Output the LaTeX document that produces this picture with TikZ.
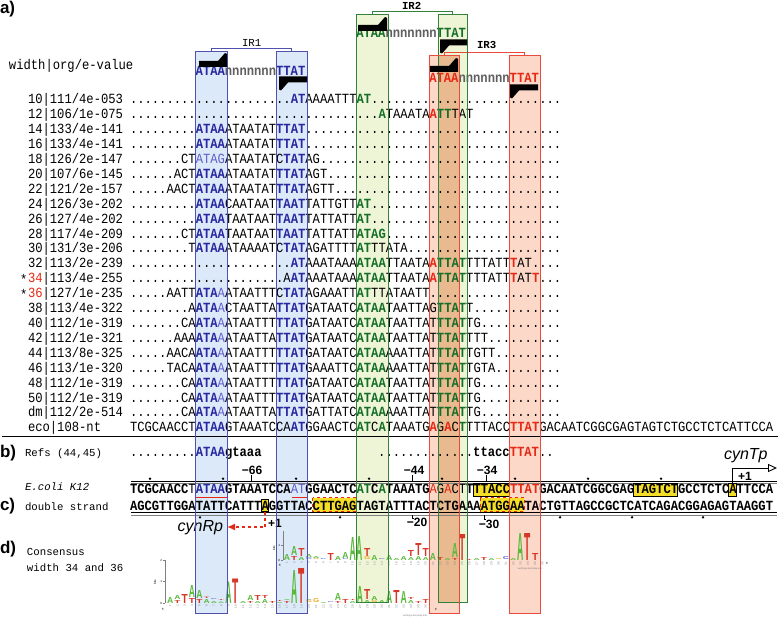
\documentclass[tikz,border=0pt]{standalone}
\usepackage{fontspec}
\usepackage{graphicx}
\setsansfont{Liberation Sans}
\newfontfamily\seqf[FakeStretch=0.87]{Liberation Mono}
\newfontfamily\monof{Liberation Mono}
\usetikzlibrary{arrows.meta}
\definecolor{cB}{RGB}{40,40,160}
\definecolor{cBl}{RGB}{95,95,205}
\definecolor{cG}{RGB}{20,110,40}
\definecolor{cR}{RGB}{230,40,20}
\definecolor{cN}{RGB}{95,95,95}
\definecolor{fIRa}{RGB}{220,233,248}
\definecolor{fIRb}{RGB}{238,245,214}
\definecolor{fIRc}{RGB}{252,216,200}
\definecolor{fOv}{RGB}{233,185,143}
\definecolor{dIRa}{RGB}{80,80,175}
\definecolor{dIRb}{RGB}{50,130,60}
\definecolor{dIRc}{RGB}{232,75,60}
\definecolor{cYel}{RGB}{245,222,40}
\definecolor{lA}{RGB}{90,185,60}
\definecolor{lT}{RGB}{215,55,40}
\definecolor{lC}{RGB}{80,100,210}
\definecolor{lG}{RGB}{240,170,30}
\newcommand\dotsn[1]{\ifnum#1>0 .\expandafter\dotsn\expandafter{\the\numexpr#1-1\relax}\fi}
\newcommand\sB[1]{{\bfseries\color{cB}#1}}
\newcommand\sL[1]{{\mdseries\color{cBl}#1}}
\newcommand\sG[1]{{\bfseries\color{cG}#1}}
\newcommand\sR[1]{{\bfseries\color{cR}#1}}
\newcommand\sN[1]{{\bfseries\color{cN}#1}}
\newcommand\tinyf{\sffamily\fontsize{3}{3}\selectfont}
\newcommand\LL[5]{\node[anchor=south,text=#2] (L#1-#3) at ({133.65+7.3*(#1)},#3) {\resizebox{6.2pt}{#4pt}{\sffamily\bfseries #5}};}
\newcommand\harpR[3]{\fill (#1,#3-3) -- (#2-9,#3-3) -- (#2-2,#3-11) -- (#2,#3-10) -- (#2,#3+3) -- (#1,#3+3) -- cycle;}
\newcommand\harpL[3]{\fill (#2,#3+3) -- (#1+9,#3+3) -- (#1+2,#3+11) -- (#1,#3+10) -- (#1,#3-3) -- (#2,#3-3) -- cycle;}
\begin{document}
\begin{tikzpicture}[x=1pt,y=-1pt,
  every node/.style={inner sep=0pt,outer sep=0pt},
  seqrow/.style={anchor=base west,font=\seqf\fontsize{14}{14}\selectfont},
  smalllab/.style={anchor=base west,font=\monof\fontsize{10.7}{11}\selectfont},
  panel/.style={anchor=base west,font=\sffamily\bfseries\fontsize{17}{17}\selectfont},
  posnum/.style={font=\sffamily\bfseries\fontsize{12}{12}\selectfont},
  ybox/.style={fill=cYel,draw=black,line width=0.8pt},
  rbox/.style={fill=cYel,draw=cR,dashed,line width=1.2pt}]
\useasboundingbox (0,0) rectangle (778,617);
% ---------- IR boxes (fills)
\fill[fIRa] (195,52) rectangle (227,613);
\fill[fIRa] (276,52) rectangle (307,613);
\fill[fIRb] (356,15) rectangle (388,602);
\fill[fIRb] (438,15) rectangle (467,602);
\fill[fIRc] (429,56) rectangle (459,613);
\fill[fIRc] (509,56) rectangle (540,613);
\fill[fOv] (438,56) rectangle (459,602);
% brackets
\draw[dIRa,line width=0.9pt] (211,52) -- (211,48.5) -- (291.5,48.5) -- (291.5,52);
\draw[dIRb,line width=0.9pt] (372,15) -- (372,11.5) -- (452.5,11.5) -- (452.5,15);
\draw[dIRc,line width=0.9pt] (444,56) -- (444,52.5) -- (524.5,52.5) -- (524.5,56);
\node[smalllab] (ir1) at (242,47) {IR1};
\node[smalllab,font=\monof\bfseries\fontsize{10.7}{11}\selectfont] (ir2) at (402,10) {IR2};
\node[smalllab,font=\monof\bfseries\fontsize{10.7}{11}\selectfont] (ir3) at (477,49) {IR3};
% ---------- panel labels
\node[panel] (pa) at (0,14) {a)};
\node[panel] (pb) at (0,457) {b)};
\node[panel] (pc) at (0,510) {c)};
\node[panel] (pd) at (0,553) {d)};
% ---------- header
\node[seqrow] (hdr) at (9,70) {width|org/e-value};
\node[seqrow] (m1) at ({130+7.3*9},76) {\sB{ATAA}\sN{nnnnnnn}\sB{TTAT}};
\node[seqrow] (m2) at ({130+7.3*31},38) {\sG{ATAA}\sN{nnnnnnn}\sG{TTAT}};
\node[seqrow] (m3) at ({130+7.3*41},83) {\sR{ATAA}\sN{nnnnnnn}\sR{TTAT}};
% ---------- rows
\node[seqrow] (l10) at (28,104) {10|111/4e-053};
\node[seqrow] (r10) at (130,104) {\dotsn{22}\sB{AT}AAAATTT\sG{AT}\dotsn{26}};
\node[seqrow] (l12) at (28,{104+14.9*1}) {12|106/1e-075};
\node[seqrow] (r12) at (130,{104+14.9*1}) {\dotsn{34}\sG{A}TAAATA\sR{A}\sG{TT}TAT};
\node[seqrow] (l14) at (28,{104+14.9*2}) {14|133/4e-141};
\node[seqrow] (r14) at (130,{104+14.9*2}) {\dotsn{9}\sB{ATAA}ATAATAT\sB{TTAT}\dotsn{35}};
\node[seqrow] (l16) at (28,{104+14.9*3}) {16|133/4e-141};
\node[seqrow] (r16) at (130,{104+14.9*3}) {\dotsn{9}\sB{ATAA}ATAATAT\sB{TTAT}\dotsn{35}};
\node[seqrow] (l18) at (28,{104+14.9*4}) {18|126/2e-147};
\node[seqrow] (r18) at (130,{104+14.9*4}) {\dotsn{7}CT\sL{ATAG}ATAATATC\sB{TAT}AG\dotsn{33}};
\node[seqrow] (l20) at (28,{104+14.9*5}) {20|107/6e-145};
\node[seqrow] (r20) at (130,{104+14.9*5}) {\dotsn{6}ACT\sB{ATAA}ATAATAT\sB{TTAT}AGT\dotsn{32}};
\node[seqrow] (l22) at (28,{104+14.9*6}) {22|121/2e-157};
\node[seqrow] (r22) at (130,{104+14.9*6}) {\dotsn{5}AACT\sB{ATAA}ATAATAT\sB{TTAT}AGTT\dotsn{31}};
\node[seqrow] (l24) at (28,{104+14.9*7}) {24|126/3e-202};
\node[seqrow] (r24) at (130,{104+14.9*7}) {\dotsn{9}\sB{ATAA}CAATAAT\sB{TAAT}TATTGTT\sG{AT}\dotsn{26}};
\node[seqrow] (l26) at (28,{104+14.9*8}) {26|127/4e-202};
\node[seqrow] (r26) at (130,{104+14.9*8}) {\dotsn{9}\sB{ATAA}TAATAAT\sB{TAAT}TATTATT\sG{AT}\dotsn{26}};
\node[seqrow] (l28) at (28,{104+14.9*9}) {28|117/4e-209};
\node[seqrow] (r28) at (130,{104+14.9*9}) {\dotsn{7}CT\sB{ATAA}TAATAAT\sB{TAAT}TATTATT\sG{ATAG}\dotsn{24}};
\node[seqrow] (l30) at (28,{104+14.9*10}) {30|131/3e-206};
\node[seqrow] (r30) at (130,{104+14.9*10}) {\dotsn{8}T\sB{ATAA}ATAAAATC\sB{TAT}AGATTTT\sG{AT}TTATA\dotsn{21}};
\node[seqrow] (l32) at (28,{104+14.9*11}) {32|113/2e-239};
\node[seqrow] (r32) at (130,{104+14.9*11}) {\dotsn{22}\sB{AT}AAATAAA\sG{ATAA}TTAATA\sR{A}\sG{TTAT}TTTATT\sR{T}AT\dotsn{4}};
\node[seqrow] (a34) at (20,{106+14.9*12}) {*};
\node[seqrow] (l34) at (28,{104+14.9*12}) {\textcolor{cR}{34}|113/4e-255};
\node[seqrow] (r34) at (130,{104+14.9*12}) {\dotsn{21}A\sB{AT}AAATAAA\sG{ATAA}TTAATA\sR{A}\sG{TTAT}TTTATT\sR{T}AT\sR{T}\dotsn{3}};
\node[seqrow] (a36) at (20,{106+14.9*13}) {*};
\node[seqrow] (l36) at (28,{104+14.9*13}) {\textcolor{cR}{36}|127/1e-235};
\node[seqrow] (r36) at (130,{104+14.9*13}) {\dotsn{5}AATT\sB{ATA}\sL{A}ATAATTTC\sB{TAT}AGAAATT\sG{AT}TTATAATT\dotsn{18}};
\node[seqrow] (l38) at (28,{104+14.9*14}) {38|113/4e-322};
\node[seqrow] (r38) at (130,{104+14.9*14}) {\dotsn{8}A\sB{ATA}\sL{A}CTAATTA\sB{TTAT}GATAATC\sG{ATAA}TAATTAG\sG{TTAT}T\dotsn{12}};
\node[seqrow] (l40) at (28,{104+14.9*15}) {40|112/1e-319};
\node[seqrow] (r40) at (130,{104+14.9*15}) {\dotsn{7}CA\sB{ATA}\sL{A}ATAATTT\sB{TTAT}GATAATC\sG{ATAA}TAATTAT\sG{TTAT}TG\dotsn{11}};
\node[seqrow] (l42) at (28,{104+14.9*16}) {42|112/1e-321};
\node[seqrow] (r42) at (130,{104+14.9*16}) {\dotsn{6}AAA\sB{ATA}\sL{A}ATAATTA\sB{TTAT}GATAATC\sG{ATAA}TAATTAT\sG{TTAT}TTT\dotsn{10}};
\node[seqrow] (l44) at (28,{104+14.9*17}) {44|113/8e-325};
\node[seqrow] (r44) at (130,{104+14.9*17}) {\dotsn{5}AACA\sB{ATA}\sL{A}ATAATTT\sB{TTAT}GATAATC\sG{ATAA}AAATTAT\sG{TTAT}TGTT\dotsn{9}};
\node[seqrow] (l46) at (28,{104+14.9*18}) {46|113/1e-320};
\node[seqrow] (r46) at (130,{104+14.9*18}) {\dotsn{5}TACA\sB{ATA}\sL{A}ATAATTT\sB{TTAT}GAAATTC\sG{ATAA}AAATTAT\sG{TTAT}TGTA\dotsn{9}};
\node[seqrow] (l48) at (28,{104+14.9*19}) {48|112/1e-319};
\node[seqrow] (r48) at (130,{104+14.9*19}) {\dotsn{7}CA\sB{ATA}\sL{A}ATAATTT\sB{TTAT}GATAATC\sG{ATAA}TAATTAT\sG{TTAT}TG\dotsn{11}};
\node[seqrow] (l50) at (28,{104+14.9*20}) {50|112/1e-319};
\node[seqrow] (r50) at (130,{104+14.9*20}) {\dotsn{7}CA\sB{ATA}\sL{A}ATAATTT\sB{TTAT}GATAATC\sG{ATAA}TAATTAT\sG{TTAT}TG\dotsn{11}};
\node[seqrow] (ldm) at (28,{104+14.9*21}) {dm|112/2e-514};
\node[seqrow] (rdm) at (130,{104+14.9*21}) {\dotsn{7}CA\sB{ATA}\sL{A}ATAATTA\sB{TTAT}GATTATC\sG{ATAA}AAATTAT\sG{TTAT}TG\dotsn{11}};
\node[seqrow] (leco) at (28,{104+14.9*22}) {eco|108-nt};
\node[seqrow] (reco) at (130,{104+14.9*22}) {TCGCAACCT\sB{ATAA}GTAAATCCA\sB{AT}GGAACTC\sG{AT}C\sG{A}TAAATG\sR{A}G\sR{A}C\sG{T}TTTACC\sR{TTAT}GACAATCGGCGAGTAGTCTGCCTCTCATTCCA};
\draw[line width=0.9pt] (2,436) -- (778,436);
% ---------- b)
\node[smalllab] (refs) at (25,456) {Refs (44,45)};
\node[seqrow] (rb1) at (130,456) {\dotsn{9}\sB{ATAA}\textbf{gtaaa}};
\node[seqrow] (rb2) at ({130+7.3*34},456) {\dotsn{13}\textbf{ttacc}\sR{TTAT}\dotsn{2}};
% ---------- c)
\node[smalllab,font=\monof\itshape\fontsize{10.7}{11}\selectfont] (eco) at (25,490) {E.coli K12};
\node[smalllab] (ds) at (25,510) {double strand};
% strand lines
\draw[black,line width=0.7pt] (131,481) -- (777,481);
\draw[gray,line width=0.7pt] (131,483.5) -- (777,483.5);
\draw[black,line width=0.7pt] (131,512.5) -- (777,512.5);
\draw[gray,line width=0.7pt] (131,515) -- (777,515);
\foreach \xx in {150,223,296,369,442,515,588,661} \fill (\xx,478.7) circle (1.3);
\foreach \xx in {200,340,560,632,703} \fill (\xx,517.3) circle (1.3);
% highlight boxes
\draw[ybox] ({130+7.3*47},483) rectangle ({130+7.3*52},496);
\draw[ybox] ({130+7.3*69},483) rectangle ({130+7.3*75},496);
\draw[ybox] ({130+7.3*82},483) rectangle ({130+7.3*83},496);
\draw[ybox] ({130+7.3*18},499.5) rectangle ({130+7.3*19},511.5);
\draw[rbox] ({130+7.3*25},497.5) rectangle ({130+7.3*31},511.5);
\draw[rbox] ({130+7.3*48},497.5) rectangle ({130+7.3*54},511.5);
\draw[cR,line width=1.8pt] (196,497.5) -- (227,497.5);
\draw[cR,line width=1.8pt] (292,497.5) -- (307,497.5);
\node[seqrow,font=\seqf\bfseries\fontsize{14}{14}\selectfont] (top) at (130,493) {TCGCAACC{\mdseries T}\sB{ATAA}GTAAATCCA\sL{AT}GGAACTC\sG{AT}C\sG{A}TAAATG{\mdseries\color{cR}A}{\mdseries G}{\mdseries\color{cR}A}{\mdseries CT}TTTACC\sR{TTAT}GACAATCGGCGAGTAGTCTGCCTCTCATTCCA};
\node[seqrow,font=\seqf\bfseries\fontsize{14}{14}\selectfont] (bot) at (130,510) {AGCGTTGGATATTCATTTAGGTTACCTTGAGTAGTATTTACTCTGAAAATGGAATACTGTTAGCCGCTCATCAGACGGAGAGTAAGGT};
% position labels and ticks
\node[posnum] (n66) at (252,470) {−66};
\node[posnum] (n44) at (414,470) {−44};
\node[posnum] (n34) at (487,470) {−34};
\node[posnum] (n20) at (417,522.5) {−20};
\node[posnum] (n30) at (489,524.5) {−30};
\draw[line width=0.8pt] (251,475) -- (251,481);
\draw[line width=0.8pt] (412,475) -- (412,481);
\draw[line width=0.8pt] (486,475) -- (486,481);
\draw[line width=0.8pt] (412,515) -- (412,518.5) -- (413.5,518.5);
\draw[line width=0.8pt] (484,515) -- (484,519) -- (485.5,519);
% promoters
\coordinate (tA) at ({130+7.3*82.5},483);
\coordinate (tE) at (777,468);
\draw[line width=0.9pt,-{Triangle[open,length=9pt,width=8pt]}] (tA) |- (tE);
\node[font=\sffamily\itshape\fontsize{16}{16}\selectfont,anchor=base west] (cynT) at (724,459) {cynTp};
\node[font=\sffamily\bfseries\fontsize{12}{12}\selectfont,anchor=base west] (p1t) at (738,480) {+1};
\coordinate (rA) at ({130+7.3*18.5},511.5);
\coordinate (rE) at (227,527);
\draw[cR,line width=1.5pt,dashed,-{Latex[length=8pt,width=7pt]}] (rA) |- (rE);
\node[font=\sffamily\itshape\fontsize{16}{16}\selectfont,anchor=base east] (cynR) at (223,531) {cynRp};
\node[font=\sffamily\bfseries\fontsize{12}{12}\selectfont,anchor=base west] (p1r) at (268,527) {+1};
% ---------- d)
\node[smalllab] (cons) at (27,555) {Consensus};
\node[smalllab] (wid) at (27,571) {width 34 and 36};
% lower logo axis
\draw[gray,line width=0.5pt] (165,560) -- (165,603);
\foreach \yy/\tt in {560/2,581.5/1,603/0} {\draw[gray,line width=0.4pt] (163,\yy) -- (165,\yy); \node[font=\tinyf,anchor=east] at (162,\yy) {\tt};}
\node[font=\tinyf,rotate=90] (bitsL) at (155,582) {bits};
\node[font=\tinyf] (f5L) at (163,609) {5'};
\node[font=\tinyf] (f3L) at (436,609) {3'};
\foreach \i in {1,...,36} \node[font=\tinyf,text=gray,rotate=90,anchor=east] at ({133.65+7.3*(\i+4)},605) {\i};
\node[font=\sffamily\fontsize{2.5}{3}\selectfont,text=gray] (wl1) at (415,615.5) {weblogo.berkeley.edu};
% upper logo axis
\draw[gray,line width=0.5pt] (283,531) -- (283,560);
\foreach \yy/\tt in {545/1,560/0} {\draw[gray,line width=0.4pt] (281,\yy) -- (283,\yy); \node[font=\tinyf,anchor=east] at (280,\yy) {\tt};}
\node[font=\tinyf,rotate=90] (bitsU) at (274,548) {bits};
\node[font=\tinyf] (f5U) at (280,565) {5'};
\node[font=\tinyf] (f3U) at (547,563) {3'};
\foreach \i in {1,...,36} \node[font=\tinyf,text=gray,rotate=90,anchor=east] at ({133.65+7.3*(\i+20)},562) {\i};
\node[font=\sffamily\fontsize{2.5}{3}\selectfont,text=gray] (wl2) at (530,568.5) {weblogo.berkeley.edu};
% lower logo letters
\LL{5}{lA}{603}{6}{A}
\LL{6}{lT}{603}{3}{T}\LL{6}{lA}{599}{4}{A}
\LL{7}{lT}{603}{9}{T}
\LL{8}{lT}{603}{5}{T}\LL{8}{lA}{597}{12}{A}
\LL{9}{lT}{603}{4}{T}\LL{9}{lA}{598}{8}{A}
\LL{10}{lA}{603}{4}{A}\LL{10}{lT}{598}{1.5}{T}
\LL{11}{lA}{603}{2}{A}\LL{11}{lC}{600}{1}{C}
\LL{12}{lA}{603}{1.5}{A}\LL{12}{lT}{600.5}{1}{T}
\LL{13}{lA}{603}{21.5}{A}
\LL{14}{lT}{603}{24.5}{T}
\LL{15}{lA}{603}{2}{A}
\LL{16}{lT}{603}{2}{T}\LL{16}{lA}{600}{5}{A}
\LL{17}{lA}{603}{2}{A}\LL{17}{lT}{600}{5}{T}
\LL{18}{lA}{603}{4}{A}\LL{18}{lT}{598}{3}{T}
\LL{19}{lT}{603}{2}{T}
\LL{20}{lA}{603}{1}{A}\LL{20}{lT}{601}{1}{T}
\LL{21}{lT}{603}{2}{T}\LL{21}{lA}{600}{1}{A}
\LL{22}{lA}{603}{33}{A}
\LL{23}{lT}{603}{35}{T}
\LL{24}{lG}{603}{2}{G}\LL{24}{lA}{600}{1}{A}
\LL{25}{lG}{603}{4}{G}
\LL{26}{lA}{603}{1}{A}
\LL{27}{lC}{603}{1}{C}
\LL{28}{lT}{603}{2}{T}\LL{28}{lA}{600}{7}{A}
\LL{29}{lT}{603}{4}{T}
\LL{30}{lA}{603}{2}{A}\LL{30}{lT}{600}{1}{T}
\LL{31}{lA}{603}{17}{A}
\LL{32}{lA}{603}{3}{A}\LL{32}{lT}{599}{10}{T}
\LL{33}{lG}{603}{2}{G}\LL{33}{lA}{600}{4}{A}
\LL{34}{lA}{603}{3}{A}
\LL{35}{lA}{603}{12}{A}
\LL{36}{lT}{603}{13}{T}
\LL{37}{lA}{603}{12}{A}
\LL{38}{lA}{603}{3}{A}\LL{38}{lT}{599}{2}{T}
\LL{39}{lT}{603}{2}{T}
\LL{40}{lT}{603}{4}{T}
% upper logo letters
\LL{21}{lA}{560}{6}{A}
\LL{22}{lT}{560}{4}{T}\LL{22}{lA}{555}{9}{A}
\LL{23}{lA}{560}{3}{A}\LL{23}{lT}{556}{8}{T}
\LL{24}{lC}{560}{2}{C}\LL{24}{lA}{557}{3}{A}
\LL{25}{lG}{560}{1}{G}\LL{25}{lA}{558}{2}{A}
\LL{26}{lC}{560}{1}{C}
\LL{27}{lT}{560}{7}{T}
\LL{28}{lA}{560}{4}{A}
\LL{29}{lC}{560}{1}{C}\LL{29}{lA}{558}{6}{A}
\LL{30}{lA}{560}{23}{A}
\LL{31}{lA}{560}{24}{A}
\LL{32}{lG}{560}{3}{G}\LL{32}{lT}{556}{8}{T}
\LL{33}{lA}{560}{5}{A}
\LL{34}{lC}{560}{1}{C}
\LL{35}{lA}{560}{5}{A}
\LL{36}{lA}{560}{2}{A}
\LL{37}{lA}{560}{4}{A}
\LL{38}{lA}{560}{3}{A}\LL{38}{lT}{556}{6}{T}
\LL{39}{lA}{560}{4}{A}\LL{39}{lT}{555}{12}{T}
\LL{40}{lA}{560}{3}{A}\LL{40}{lT}{556}{8}{T}
\LL{41}{lA}{560}{7}{A}
\LL{42}{lT}{560}{3}{T}
\LL{43}{lA}{560}{2}{A}
\LL{44}{lT}{560}{2}{T}\LL{44}{lA}{557}{14}{A}
\LL{45}{lT}{560}{26}{T}
\LL{46}{lT}{560}{1}{T}
\LL{47}{lA}{560}{2}{A}
\LL{48}{lT}{560}{3}{T}
\LL{49}{lA}{560}{2}{A}
\LL{50}{lG}{560}{1}{G}
\LL{51}{lC}{560}{3}{C}
\LL{52}{lA}{560}{2}{A}
\LL{53}{lA}{560}{27}{A}
\LL{54}{lT}{560}{27}{T}
\LL{55}{lT}{560}{7}{T}
% ---------- IR box borders
\draw[dIRa,line width=1pt] (195,52) rectangle (227,613);
\draw[dIRa,line width=1pt] (276,52) rectangle (307,613);
\draw[dIRb,line width=1pt] (356,15) rectangle (388,602);
\draw[dIRb,line width=1pt] (438,15) rectangle (467,602);
\draw[dIRc,line width=1pt] (429,56) rectangle (459,613);
\draw[dIRc,line width=1pt] (509,56) rectangle (540,613);
% harpoon arrows
\harpR{199}{227}{64}
\harpL{279}{307}{79.5}
\harpR{358}{387}{28}
\harpL{440}{467}{42.5}
\harpR{430}{458}{69}
\harpL{510}{538}{87.5}
\end{tikzpicture}
\end{document}
